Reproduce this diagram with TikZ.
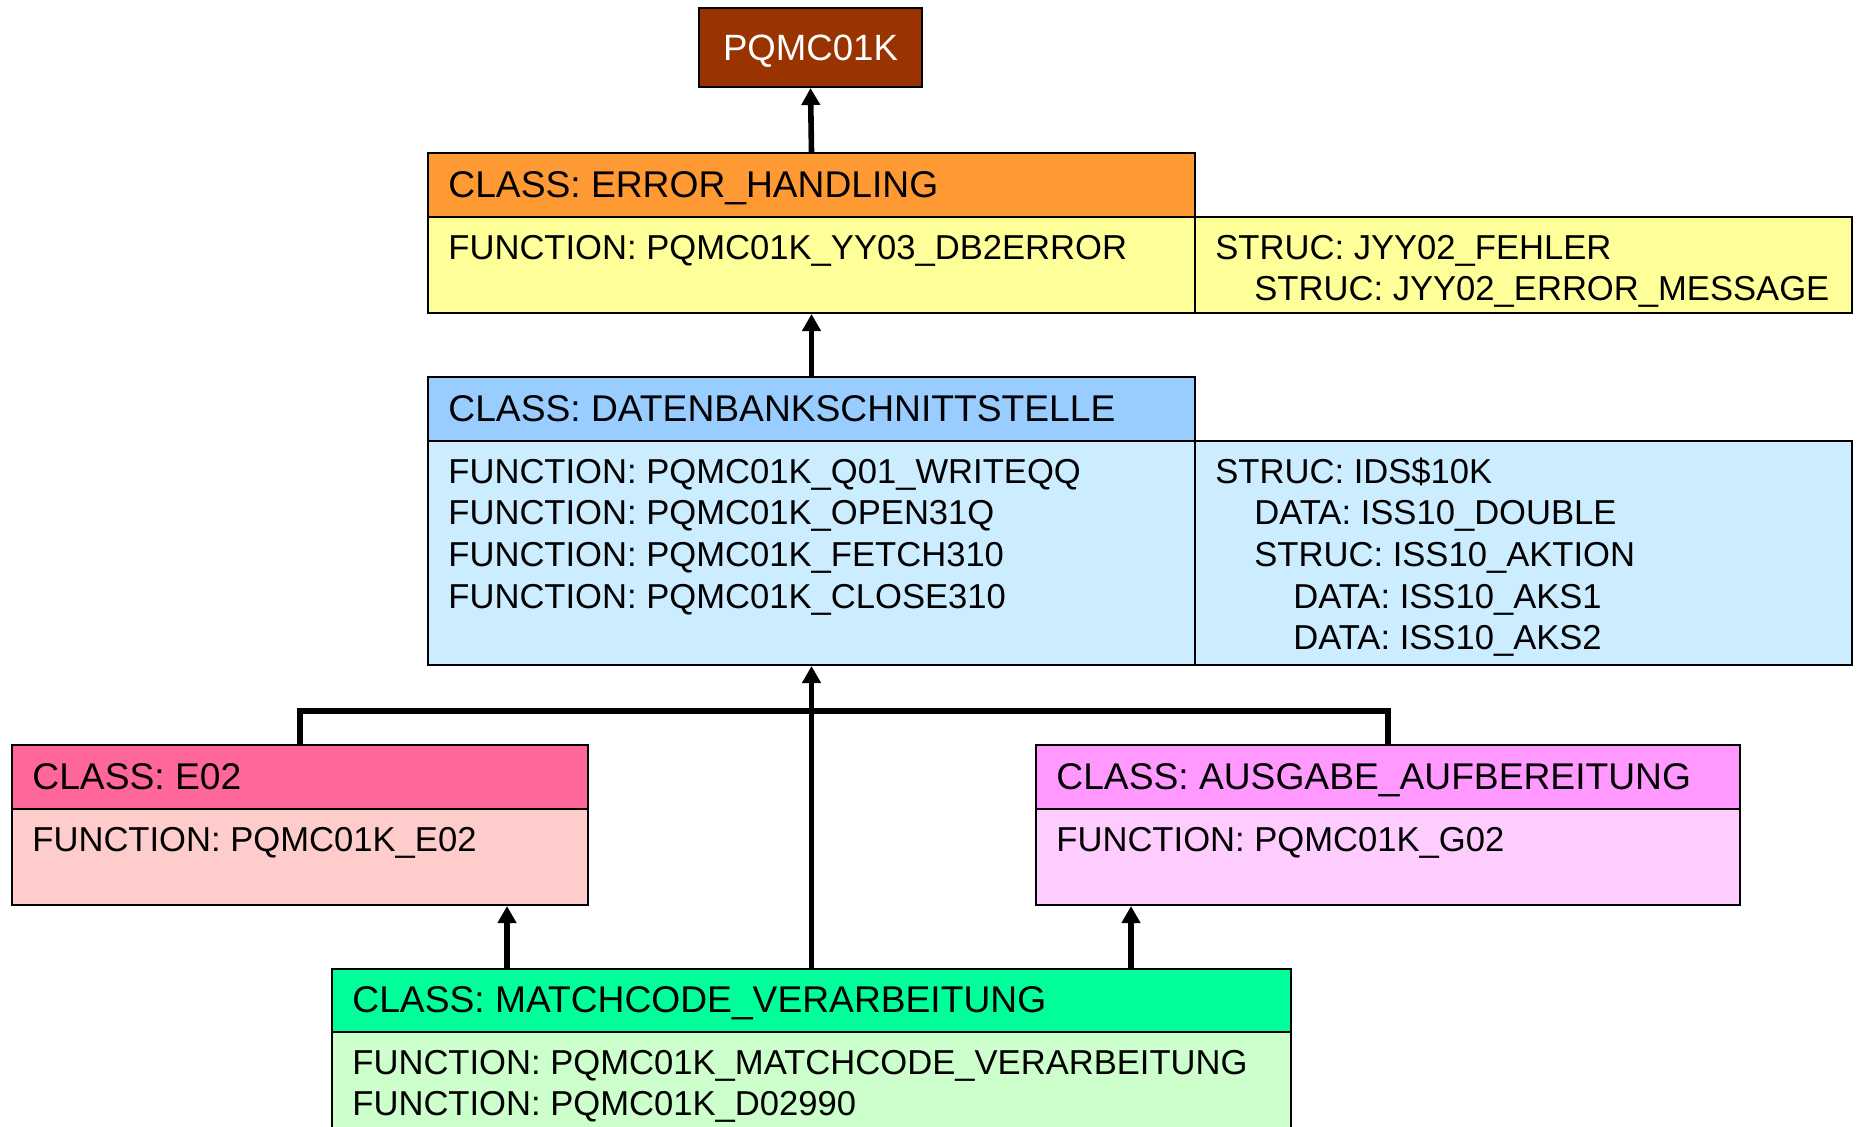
\documentclass[tikz,border=0pt]{standalone}
\usepackage{fontspec}
\setmainfont{Liberation Sans}
\usetikzlibrary{arrows.meta}

\definecolor{rootbrown}{HTML}{993300}
\definecolor{errhead}{HTML}{FF9933}
\definecolor{errbody}{HTML}{FFFF99}
\definecolor{dathead}{HTML}{99CCFF}
\definecolor{datbody}{HTML}{CCECFF}
\definecolor{ehead}{HTML}{FF6699}
\definecolor{ebody}{HTML}{FFCCCC}
\definecolor{aushead}{HTML}{FF99FF}
\definecolor{ausbody}{HTML}{FFCCFF}
\definecolor{mathead}{HTML}{00FF99}
\definecolor{matbody}{HTML}{CCFFCC}

\tikzset{
  umlbox/.style={draw, line width=1pt, rectangle, inner sep=0pt, anchor=north west},
  rootbox/.style={draw, line width=1pt, rectangle, inner sep=0pt, fill=rootbrown, text=white,
    minimum width=111.5pt, minimum height=39.5pt, text height=13.1pt, text depth=0pt,
    font=\fontsize{18.3}{22}\selectfont},
  headtext/.style={anchor=base west, inner sep=0pt, font=\fontsize{18.6}{22}\selectfont},
  bodytext/.style={anchor=base west, inner sep=0pt, font=\fontsize{17.3}{20.85}\selectfont},
  link/.style={line width=2.8pt},
  linkarrow/.style={link, -{Triangle[width=9pt,length=8.5pt]}},
}

\begin{document}
\begin{tikzpicture}[x=0.5pt, y=-0.5pt]

\useasboundingbox (0,0) rectangle (1858,1126) ;

% top
\node [rootbox] (root) at (810.5,47.5) {PQMC01K} ;

% error handling
\node [umlbox, fill=errhead, minimum width=383.5pt, minimum height=32pt] (errHead) at (427,152) {} ;
\node [umlbox, fill=errbody, minimum width=383.5pt, minimum height=48pt] (errBody) at (427,216) {} ;
\node [umlbox, fill=errbody, minimum width=328.5pt, minimum height=48pt] (errStruc) at (1194,216) {} ;
\node [headtext] (errName) at (448,197.3) {CLASS: ERROR\_HANDLING} ;
\node [bodytext] (errF1) at (448,259) {FUNCTION: PQMC01K\_YY03\_DB2ERROR} ;
\node [bodytext] (errS1) at (1215,259) {STRUC: JYY02\_FEHLER} ;
\node [bodytext] (errS2) at (1254,300.7) {STRUC: JYY02\_ERROR\_MESSAGE} ;

% datenbankschnittstelle
\node [umlbox, fill=dathead, minimum width=383.5pt, minimum height=32pt] (datHead) at (427,376) {} ;
\node [umlbox, fill=datbody, minimum width=383.5pt, minimum height=112pt] (datBody) at (427,440) {} ;
\node [umlbox, fill=datbody, minimum width=328.5pt, minimum height=112pt] (datStruc) at (1194,440) {} ;
\node [headtext] (datName) at (448,421.3) {CLASS: DATENBANKSCHNITTSTELLE} ;
\node [bodytext] (datF1) at (448,483) {FUNCTION: PQMC01K\_Q01\_WRITEQQ} ;
\node [bodytext] (datF2) at (448,524.7) {FUNCTION: PQMC01K\_OPEN31Q} ;
\node [bodytext] (datF3) at (448,566.4) {FUNCTION: PQMC01K\_FETCH310} ;
\node [bodytext] (datF4) at (448,608.1) {FUNCTION: PQMC01K\_CLOSE310} ;
\node [bodytext] (datS1) at (1215,483) {STRUC: IDS\$10K} ;
\node [bodytext] (datS2) at (1254,524.7) {DATA: ISS10\_DOUBLE} ;
\node [bodytext] (datS3) at (1254,566.4) {STRUC: ISS10\_AKTION} ;
\node [bodytext] (datS4) at (1293,608.1) {DATA: ISS10\_AKS1} ;
\node [bodytext] (datS5) at (1293,649.8) {DATA: ISS10\_AKS2} ;

% e02
\node [umlbox, fill=ehead, minimum width=288pt, minimum height=32pt] (eHead) at (11,744) {} ;
\node [umlbox, fill=ebody, minimum width=288pt, minimum height=48pt] (eBody) at (11,808) {} ;
\node [headtext] (eName) at (32,789.3) {CLASS: E02} ;
\node [bodytext] (eF1) at (32,851) {FUNCTION: PQMC01K\_E02} ;

% ausgabe
\node [umlbox, fill=aushead, minimum width=352pt, minimum height=32pt] (ausHead) at (1035,744) {} ;
\node [umlbox, fill=ausbody, minimum width=352pt, minimum height=48pt] (ausBody) at (1035,808) {} ;
\node [headtext] (ausName) at (1056,789.3) {CLASS: AUSGABE\_AUFBEREITUNG} ;
\node [bodytext] (ausF1) at (1056,851) {FUNCTION: PQMC01K\_G02} ;

% matchcode
\node [umlbox, fill=mathead, minimum width=479.5pt, minimum height=31.5pt] (matHead) at (331,968) {} ;
\node [umlbox, fill=matbody, minimum width=479.5pt, minimum height=70pt] (matBody) at (331,1031) {} ;
\node [headtext] (matName) at (352,1012.8) {CLASS: MATCHCODE\_VERARBEITUNG} ;
\node [bodytext] (matF1) at (352,1074) {FUNCTION: PQMC01K\_MATCHCODE\_VERARBEITUNG} ;
\node [bodytext] (matF2) at (352,1115.7) {FUNCTION: PQMC01K\_D02990} ;

% connectors
\coordinate (bus) at (810.5,711) ;
\coordinate (m1) at (507,968) ;
\coordinate (m2) at (1131,968) ;

\draw [linkarrow] (errHead.north) to (root.south) ;
\draw [linkarrow] (datHead.north) to (errBody.south) ;
\draw [linkarrow] (matHead.north) to (datBody.south) ;
\draw [link] (eHead.north) |- (bus) -| (ausHead.north) ;
\draw [linkarrow] (m1) to (m1 |- eBody.south) ;
\draw [linkarrow] (m2) to (m2 |- ausBody.south) ;

\end{tikzpicture}
\end{document}
